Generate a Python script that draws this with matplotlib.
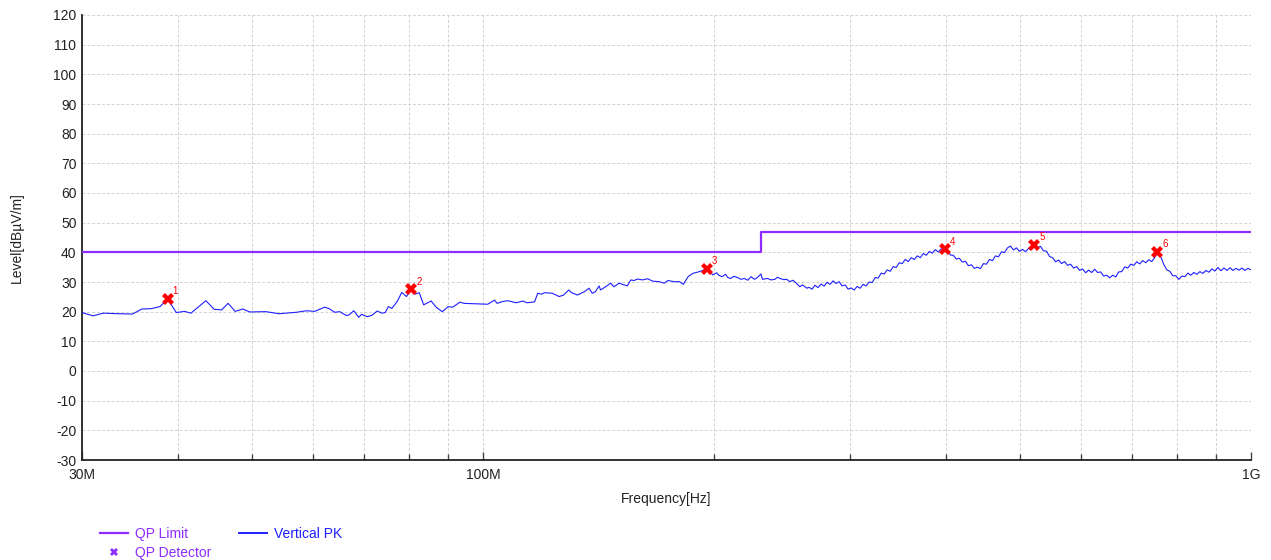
import numpy as np
import matplotlib
matplotlib.use("Agg")
import matplotlib.pyplot as plt
from matplotlib.lines import Line2D
from matplotlib.ticker import FixedLocator, NullFormatter

plt.rcParams['font.family'] = ['Liberation Sans', 'DejaVu Sans']
plt.rcParams['axes.unicode_minus'] = False

# ---- QP limit (CISPR class B style step) ----
limit_freq_mhz = [30, 230, 230, 1000]
limit_level = [40, 40, 47, 47]

# ---- Vertical PK sweep, 30 MHz .. 264 MHz ----
pk_freq_low = [
    30.0, 31.0, 32.0, 33.5, 34.9, 35.9, 36.9, 37.9, 38.8, 39.8,
    40.8, 41.6, 43.5, 44.6, 45.6, 46.5, 47.5, 48.6, 49.6, 52.1,
    54.2, 57.1, 58.8, 60.3, 62.1, 63.0, 64.0, 65.0, 66.3, 66.8,
    67.8, 68.8, 69.4, 70.6, 71.6, 72.7, 73.8, 74.5, 75.2, 76.0,
    77.2, 78.3, 79.4, 80.4, 81.5, 82.5, 83.6, 85.5, 86.8, 88.4,
    90.0, 91.2, 93.2, 94.4, 96.6, 101.3, 103.4, 104.2, 105.9, 107.6,
    110.4, 112.6, 113.9, 116.6, 117.7, 119.1, 120.1, 123.0, 125.5, 127.2,
]
pk_level_low = [
    19.7, 18.6, 19.5, 19.3, 19.2, 20.9, 21.0, 21.7, 24.2, 19.7,
    20.1, 19.5, 23.7, 20.8, 20.6, 22.8, 20.1, 20.9, 19.9, 20.0,
    19.3, 19.8, 20.3, 20.1, 21.5, 21.0, 19.8, 20.0, 18.7, 18.9,
    20.3, 18.1, 19.1, 18.3, 18.8, 20.2, 19.5, 19.7, 21.7, 21.1,
    23.4, 26.5, 25.1, 27.3, 25.9, 26.4, 22.3, 23.6, 21.5, 20.0,
    21.7, 21.5, 23.2, 22.8, 22.7, 22.5, 23.9, 22.8, 23.4, 23.7,
    23.0, 23.6, 23.0, 23.3, 26.2, 25.9, 26.4, 26.2, 25.1, 25.6,
]

pk_freq_mid = [
    129.2, 130.3, 132.6, 135.3, 137.3, 138.6, 139.9, 141.5, 142.1, 144.3,
    146.5, 147.9, 150.3, 152.6, 154.0, 155.6, 157.1, 158.8, 161.2, 163.7,
    166.1, 169.5, 172.1, 173.9, 177.3, 180.1, 182.2, 184.8, 187.4, 191.2,
    195.2, 197.0, 199.0, 201.3, 202.8, 204.6, 206.8, 208.2, 209.9, 212.0,
    214.4, 216.5, 218.8, 221.0, 223.2, 225.5, 227.5, 229.9, 231.0, 234.5,
    237.0, 239.8, 241.5, 243.5, 246.0, 248.4, 250.8, 253.0, 255.7, 258.3,
    260.5, 263.8,
]
pk_level_mid = [
    27.3, 26.4, 25.6, 26.7, 27.9, 26.2, 26.7, 28.7, 27.3, 28.4,
    29.6, 28.4, 29.6, 29.0, 28.7, 30.7, 30.5, 31.0, 30.7, 31.1,
    30.3, 30.1, 29.6, 30.5, 30.1, 30.1, 29.2, 31.8, 32.9, 33.5,
    34.3, 33.6, 32.4, 33.1, 32.2, 31.8, 32.6, 31.5, 31.2, 31.9,
    31.5, 30.9, 31.2, 30.6, 31.8, 30.9, 31.5, 32.7, 30.9, 31.2,
    30.7, 30.9, 31.6, 31.2, 30.8, 30.9, 30.1, 30.6, 29.6, 28.4,
    29.0, 27.9,
]

# ---- Vertical PK sweep, 265.6 MHz .. 1 GHz (log-spaced sweep points) ----
pk_hf_start_mhz = 265.6
pk_hf_stop_mhz = 1000.0
pk_level_high = [
    28.2, 27.6, 28.9, 28.1, 29.3, 28.6, 29.9, 29.2, 30.4, 29.5,
    30.1, 28.7, 29.0, 27.6, 28.0, 27.3, 28.5, 27.9, 29.2, 28.7,
    30.0, 29.8, 31.5, 31.3, 33.0, 32.7, 34.1, 33.6, 35.2, 34.9,
    36.5, 36.2, 37.6, 36.9, 38.2, 37.6, 38.8, 38.2, 39.6, 39.0,
    40.3, 39.7, 40.9, 40.1, 41.2, 40.6, 40.9, 39.1, 39.0, 37.7,
    38.0, 36.7, 37.0, 35.5, 35.8, 34.6, 35.0, 34.5, 36.2, 36.0,
    37.6, 37.2, 38.8, 38.5, 40.2, 39.9, 41.5, 42.1, 40.8, 41.5,
    40.3, 41.0, 40.2, 41.3, 41.0, 42.6, 41.6, 42.0, 40.5, 40.4,
    38.6, 38.2, 36.8, 37.4, 36.2, 36.9, 35.6, 36.0, 34.7, 35.2,
    33.9, 34.4, 33.1, 34.0, 33.2, 34.3, 33.2, 33.4, 32.0, 32.3,
    31.4, 32.3, 31.7, 33.4, 33.5, 35.1, 34.7, 36.0, 35.6, 36.8,
    36.1, 37.2, 36.5, 37.5, 36.9, 38.3, 40.0, 38.5, 35.9, 34.1,
    33.6, 32.1, 32.1, 30.9, 32.0, 31.8, 33.0, 32.3, 33.2, 32.6,
    33.5, 32.9, 33.9, 33.3, 34.4, 33.7, 34.9, 33.8, 34.7, 33.9,
    34.8, 33.9, 34.6, 34.0, 34.7, 33.9, 34.6, 34.1,
]

# ---- QP detector results ----
qp_freq_mhz = [38.8, 80.6, 195.5, 399.0, 522.0, 755.0]
qp_level = [24.2, 27.5, 34.3, 41.0, 42.5, 40.2]
qp_labels = ['1', '2', '3', '4', '5', '6']

# ---- axis ticks ----
x_major_mhz = [30, 100, 1000]
x_major_labels = ['30M', '100M', '1G']
x_minor_mhz = [40, 50, 60, 70, 80, 90, 200, 300, 400, 500, 600, 700, 800, 900]
y_ticks = list(range(-30, 121, 10))

PURPLE = '#8e2cff'
BLUE = '#1f1fff'
RED = '#ff0000'
TXT = '#222222'

hf_freq = np.geomspace(pk_hf_start_mhz, pk_hf_stop_mhz, len(pk_level_high))
pk_freq = np.concatenate([pk_freq_low, pk_freq_mid, hf_freq]) * 1e6
pk_level = np.concatenate([pk_level_low, pk_level_mid, pk_level_high])

fig = plt.figure(figsize=(12.71, 5.6), dpi=100)
ax = fig.add_axes([82 / 1271, 1 - 460 / 560, 1169 / 1271, 445 / 560])

ax.plot(np.array(limit_freq_mhz) * 1e6, limit_level, color=PURPLE, lw=1.6, zorder=3)
ax.plot(pk_freq, pk_level, color=BLUE, lw=0.8, zorder=4)
ax.plot(np.array(qp_freq_mhz) * 1e6, qp_level, linestyle='none', marker='X',
        markersize=8, color=RED, markeredgewidth=0, zorder=5)
for f, lv, lab in zip(qp_freq_mhz, qp_level, qp_labels):
    ax.annotate(lab, (f * 1e6, lv), xytext=(3.5, 3.5), textcoords='offset points',
                color=RED, fontsize=7, zorder=6)

ax.set_xscale('log')
ax.set_xlim(30e6, 1e9)
ax.set_ylim(-30, 120)
ax.xaxis.set_major_locator(FixedLocator(np.array(x_major_mhz) * 1e6))
ax.set_xticklabels(x_major_labels)
ax.xaxis.set_minor_locator(FixedLocator(np.array(x_minor_mhz) * 1e6))
ax.xaxis.set_minor_formatter(NullFormatter())
ax.set_yticks(y_ticks)

ax.tick_params(axis='x', which='major', direction='in', length=6, width=1,
               color='#444444', pad=6, labelsize=10, labelcolor=TXT)
ax.tick_params(axis='x', which='minor', direction='in', length=4, width=1, color='#444444')
ax.tick_params(axis='y', length=0, pad=4, labelsize=10, labelcolor=TXT)

grid_kw = dict(color='#d2d2d2', lw=0.7, linestyle=(0, (3, 2)))
ax.grid(True, which='major', axis='both', **grid_kw)
ax.grid(True, which='minor', axis='x', **grid_kw)
ax.set_axisbelow(True)

for s in ('top', 'right'):
    ax.spines[s].set_visible(False)
for s in ('left', 'bottom'):
    ax.spines[s].set_color('#222222')
    ax.spines[s].set_linewidth(1.3)

ax.set_xlabel('Frequency[Hz]', fontsize=10, color=TXT)
ax.xaxis.set_label_coords(0.5, -0.072)
ax.set_ylabel('Level[dBµV/m]', fontsize=10, color=TXT)
ax.yaxis.set_label_coords(-0.0496, 0.5)

handles = [
    Line2D([], [], color=PURPLE, lw=1.6),
    Line2D([], [], color=PURPLE, linestyle='none', marker='X', markersize=5.5, markeredgewidth=0),
    Line2D([], [], color=BLUE, lw=1.4),
]
labels = ['QP Limit', 'QP Detector', 'Vertical PK']
leg = fig.legend(handles, labels, ncol=2, loc='upper left',
                 bbox_to_anchor=(100 / 1271, 1 - 527 / 560), frameon=False,
                 fontsize=10, borderpad=0, borderaxespad=0, handlelength=2.0,
                 handletextpad=0.5, columnspacing=2.0, labelspacing=0.35)
for t, c in zip(leg.get_texts(), [PURPLE, PURPLE, BLUE]):
    t.set_color(c)

fig.savefig('out.png', dpi=100)
